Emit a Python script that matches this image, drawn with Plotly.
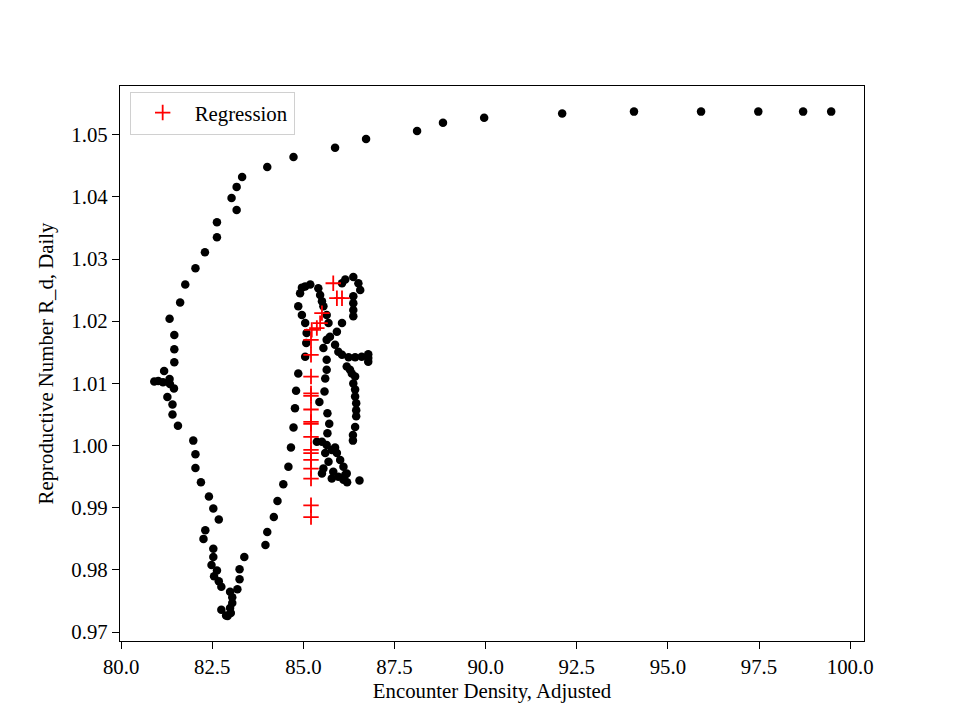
import plotly.graph_objects as go

# Black scatter points: Encounter Density (x) vs Reproductive Number (y)
density = [
    99.48, 98.71, 97.48, 95.91, 94.07, 92.10, 89.96, 88.83, 88.12,
    86.72, 85.87, 84.73, 84.01, 83.32, 83.17, 83.03, 83.17, 82.63, 82.63,
    82.30, 82.04, 81.76, 81.62, 81.33, 81.46, 81.46, 81.46, 81.18, 81.33,
    80.91, 81.02, 81.15, 81.34, 81.45, 81.27, 81.41, 81.41, 81.56,
    81.98, 82.04, 82.04, 82.19, 82.41, 82.53, 82.68, 82.31, 82.26, 82.53,
    82.53, 82.48, 82.63, 82.55, 82.68, 82.75, 82.99, 83.19, 83.05, 83.05,
    82.99, 82.75, 83.01, 82.92, 82.88,
    83.25, 83.25, 83.38, 83.96, 84.01, 84.19, 84.29, 84.45, 84.59, 84.66,
    84.73, 84.77, 84.80, 84.86, 85.05, 85.08, 85.09, 85.05, 84.96, 84.86,
    84.91, 84.96, 85.05, 85.19, 85.41, 85.46, 85.51, 85.55, 85.64, 85.69,
    86.06, 86.15, 86.37, 86.51, 86.56, 86.37, 86.37, 86.37, 86.37, 86.06,
    85.92, 85.73, 85.64, 85.55, 85.64, 85.64, 85.60, 85.58, 85.44, 85.66,
    85.71, 85.66, 85.37, 85.51, 85.64, 85.78, 85.92, 85.60, 86.01, 85.69,
    85.55, 85.51, 85.82, 86.10, 86.19, 86.10, 85.96, 85.78, 86.54, 86.42,
    86.36, 86.36, 85.87, 86.15, 86.20,
    86.28, 86.42, 86.37, 86.42, 86.42, 86.45, 86.45, 86.45,
    85.87, 85.96, 86.06, 86.24, 86.42, 86.60, 86.78, 86.78, 86.78, 86.19, 86.33,
]
r_daily = [
    1.0537, 1.0537, 1.0537, 1.0537, 1.0537, 1.0534, 1.0527, 1.0519, 1.0506,
    1.0493, 1.0479, 1.0464, 1.0448, 1.0432, 1.0416, 1.0398, 1.0379, 1.0359, 1.0335,
    1.0311, 1.0285, 1.0259, 1.0230, 1.0204, 1.0178, 1.0155, 1.0134, 1.0120, 1.0107,
    1.0103, 1.0104, 1.0102, 1.0099, 1.0092, 1.0078, 1.0066, 1.0050, 1.0032,
    1.0008, 0.9986, 0.9964, 0.9941, 0.9918, 0.9899, 0.9881, 0.9864, 0.9850, 0.9834,
    0.9821, 0.9808, 0.9799, 0.9790, 0.9782, 0.9773, 0.9765, 0.9769, 0.9756, 0.9747,
    0.9739, 0.9736, 0.9731, 0.9726, 0.9727,
    0.9785, 0.9801, 0.9821, 0.9840, 0.9861, 0.9885, 0.9911, 0.9938, 0.9966, 0.9997,
    1.0029, 1.0060, 1.0088, 1.0116, 1.0143, 1.0165, 1.0181, 1.0197, 1.0210, 1.0224,
    1.0245, 1.0254, 1.0256, 1.0259, 1.0253, 1.0242, 1.0232, 1.0224, 1.0210, 1.0197,
    1.0261, 1.0267, 1.0271, 1.0261, 1.0250, 1.0240, 1.0229, 1.0218, 1.0208, 1.0197,
    1.0183, 1.0175, 1.0170, 1.0157, 1.0138, 1.0122, 1.0108, 1.0087, 1.0070, 1.0052,
    1.0035, 1.0020, 1.0006, 1.0006, 1.0001, 0.9993, 0.9988, 0.9988, 0.9977, 0.9974,
    0.9963, 0.9955, 0.9958, 0.9966, 0.9955, 0.9945, 0.9950, 0.9947, 0.9944, 1.0030,
    1.0017, 1.0008, 0.9997, 0.9953, 0.9941,
    1.0122, 1.0111, 1.0100, 1.0090, 1.0079, 1.0068, 1.0057, 1.0047,
    1.0162, 1.0151, 1.0146, 1.0142, 1.0142, 1.0143, 1.0141, 1.0147, 1.0135, 1.0127, 1.0116,
]

# Regression points (red +)
reg_density = [
    85.82, 85.92, 86.06, 85.51, 85.46, 85.37, 85.23, 85.21, 85.21, 85.21,
    85.21, 85.21, 85.21, 85.21, 85.21, 85.21, 85.21, 85.21, 85.21, 85.21,
    85.21, 85.21, 85.21,
]
reg_r = [
    1.0261, 1.0237, 1.0237, 1.0213, 1.0197, 1.0189, 1.0186, 1.0170, 1.0146, 1.0111,
    1.0084, 1.0080, 1.0058, 1.0038, 1.0035, 1.0014, 0.9993, 0.9988, 0.9977, 0.9963,
    0.9947, 0.9904, 0.9885,
]

x_ticks = [80.0, 82.5, 85.0, 87.5, 90.0, 92.5, 95.0, 97.5, 100.0]
y_ticks = [0.97, 0.98, 0.99, 1.00, 1.01, 1.02, 1.03, 1.04, 1.05]

FONT = "Liberation Serif"
FS = 20.8

fig = go.Figure()
fig.add_trace(go.Scatter(
    x=density, y=r_daily, mode="markers", showlegend=False,
    marker=dict(color="black", size=8.5, line=dict(width=0)),
))
fig.add_trace(go.Scatter(
    x=reg_density, y=reg_r, mode="markers", name="Regression",
    marker=dict(symbol="cross-thin", color="red", size=11,
                line=dict(color="red", width=1.8)),
))

axis_common = dict(
    showline=True, linecolor="black", linewidth=1.3, mirror=True,
    ticks="outside", ticklen=7, tickwidth=1.3, tickcolor="black",
    showgrid=False, zeroline=False,
    tickfont=dict(family=FONT, size=FS, color="black"),
)

fig.update_layout(
    width=960, height=720, autosize=False,
    paper_bgcolor="white", plot_bgcolor="white",
    margin=dict(l=112, r=104, t=78, b=87),
    font=dict(family=FONT, size=FS, color="black"),
    xaxis=dict(
        range=[79.97, 100.38], tickvals=x_ticks,
        ticktext=[f"{v:.1f}" for v in x_ticks],
        title=dict(text="Encounter Density, Adjusted",
                   font=dict(family=FONT, size=FS), standoff=6),
        **axis_common,
    ),
    yaxis=dict(
        range=[0.96858, 1.05782], tickvals=y_ticks,
        ticktext=[f"{v:.2f}" for v in y_ticks],
        title=dict(text="Reproductive Number R_d, Daily",
                   font=dict(family=FONT, size=FS), standoff=12),
        **axis_common,
    ),
    legend=dict(
        x=0.013, y=0.99, xanchor="left", yanchor="top",
        bgcolor="white", bordercolor="#d0d0d0", borderwidth=1,
        itemwidth=54,
        font=dict(family=FONT, size=FS, color="black"),
    ),
)

fig.write_html("out.html")
